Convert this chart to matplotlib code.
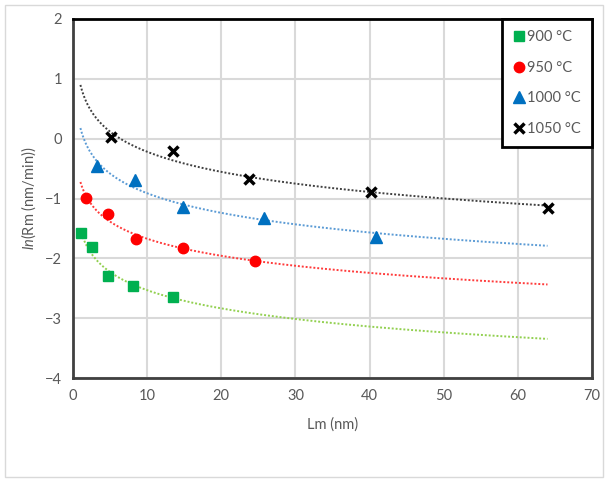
import numpy as np
import matplotlib
matplotlib.use('Agg')
import matplotlib.pyplot as plt
from matplotlib.patches import Rectangle

plt.rcParams['font.family'] = ['Lato', 'DejaVu Sans']
plt.rcParams['mathtext.fontset'] = 'custom'
plt.rcParams['mathtext.it'] = 'Lato:italic'
plt.rcParams['mathtext.rm'] = 'Lato'

# data
x900 = [1.04, 2.56, 4.68, 8.13, 13.5]
y900 = [-1.58, -1.81, -2.29, -2.46, -2.64]
x950 = [1.75, 4.72, 8.45, 14.9, 24.5]
y950 = [-0.99, -1.26, -1.68, -1.83, -2.04]
x1000 = [3.19, 8.4, 14.9, 25.8, 40.8]
y1000 = [-0.45, -0.69, -1.14, -1.32, -1.64]
x1050 = [5.12, 13.5, 23.8, 40.2, 64.0]
y1050 = [0.02, -0.20, -0.68, -0.89, -1.16]
labels = ['900 °C', '950 °C', '1000 °C', '1050 °C']

series = [
    (x900, y900, dict(marker='s', color='#00B050', ms=6.5, ls='none'), '#92D050'),
    (x950, y950, dict(marker='o', color='#FF0000', ms=7.5, ls='none'), '#FF3B3B'),
    (x1000, y1000, dict(marker='^', color='#0070C0', ms=8.5, ls='none'), '#5B9BD5'),
    (x1050, y1050, dict(marker='x', color='black', ms=7.5, mew=2.5, ls='none'), '#404040'),
]

fig = plt.figure(figsize=(6.08, 4.82), dpi=100)
ax = fig.add_axes([73/608, 1-378/482, (592-73)/608, (378-19)/482])

# log trendlines (Excel style), drawn 1..64
xt = np.linspace(1, 64, 300)
for (xs, ys, style, tc), lab in zip(series, labels):
    a, b = np.polyfit(np.log(xs), ys, 1)
    ax.plot(xt, a*np.log(xt) + b, color=tc, lw=1.4, ls=(0, (1, 1)), zorder=2)
for (xs, ys, style, tc), lab in zip(series, labels):
    ax.plot(xs, ys, label=lab, zorder=3, **style)

ax.set_xlim(0, 70)
ax.set_ylim(-4, 2)
ax.set_xticks(range(0, 71, 10))
ax.set_yticks(range(-4, 3))
ax.grid(True, color='#D9D9D9', lw=1.5)
ax.set_axisbelow(True)
ax.tick_params(length=0, labelsize=10.5, colors='#595959', pad=8)
for s in ['left', 'bottom', 'right']:
    ax.spines[s].set_color('#404040')
    ax.spines[s].set_linewidth(2)
ax.spines['top'].set_color('black')
ax.spines['top'].set_linewidth(2)

ax.set_xlabel('Lm (nm)', fontsize=10.5, color='#595959', labelpad=10)
ax.set_ylabel(r'$\mathit{ln}$(Rm (nm/min))', fontsize=10.5, color='#595959', labelpad=5)

leg = ax.legend(loc='upper right', bbox_to_anchor=(1, 1), borderaxespad=0,
                fontsize=10.5, labelspacing=1.15, handletextpad=0.2,
                handlelength=0.8, borderpad=0.75, fancybox=False, framealpha=1)
leg.get_frame().set_edgecolor('black')
leg.get_frame().set_linewidth(2)
for t in leg.get_texts():
    t.set_color('#595959')

fig.patches.append(Rectangle((5/608, 5/482), 598/608, 472/482, transform=fig.transFigure,
                             fill=False, edgecolor='#D9D9D9', lw=1))

fig.savefig('out.png', dpi=100)
